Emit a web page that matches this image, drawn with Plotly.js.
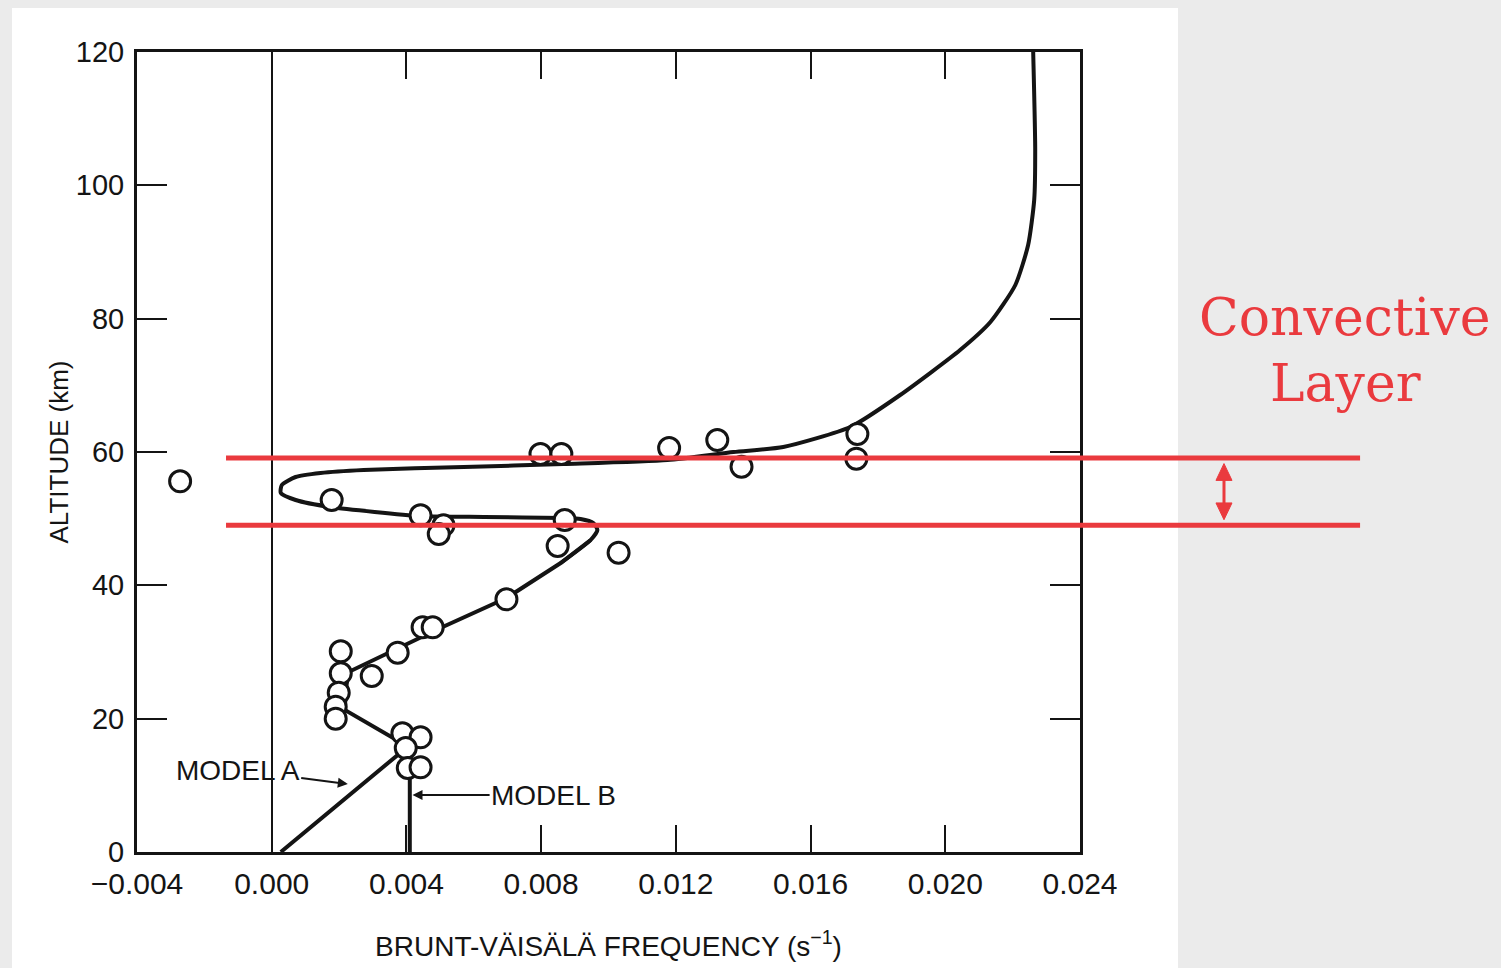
<!DOCTYPE html>
<html>
<head>
<meta charset="utf-8">
<script src="https://cdn.plot.ly/plotly-3.0.1.min.js"></script>
<style>html,body{margin:0;padding:0;background:#ebebeb;}#chart{width:1501px;height:968px;}</style>
</head>
<body>
<div id="chart"></div>
<script>
// Observed Brunt-Väisälä frequency points (s^-1) and altitudes (km)
const obsFreq = [-0.00272, 0.00178, 0.00442, 0.0051, 0.00496, 0.0087, 0.00849, 0.0103, 0.00697,
  0.00448, 0.00478, 0.00374, 0.00297, 0.00205, 0.00205, 0.00199, 0.0019, 0.0019,
  0.00388, 0.00442, 0.00398, 0.00404, 0.00442,
  0.00798, 0.0086, 0.0118, 0.01323, 0.01395, 0.01739, 0.01736];
const obsAlt = [55.6, 52.8, 50.5, 49.0, 47.7, 49.8, 45.9, 44.9, 37.9,
  33.7, 33.7, 29.9, 26.4, 30.1, 26.8, 23.9, 21.8, 20.0,
  17.8, 17.2, 15.6, 12.6, 12.7,
  59.7, 59.7, 60.6, 61.8, 57.8, 62.7, 59.0];

// Model A profile, lower straight segments
const modelALowFreq = [0.00027, 0.00374, 0.00398, 0.00217, 0.0022, 0.00228, 0.00501, 0.00697, 0.00858, 0.00947];
const modelALowAlt  = [0, 14.55, 16.0, 21.3, 24.3, 27.0, 33.6, 38.1, 43.35, 46.8];
// Model A profile, upper smooth part
const modelAHighFreq = [0.00858, 0.00947, 0.00967, 0.00955, 0.00917, 0.00866, 0.0063, 0.00442, 0.00175, 0.00071,
  0.00027, 0.0003, 0.00071, 0.00145, 0.00273, 0.0057, 0.00866, 0.01175, 0.01371, 0.01519,
  0.01718, 0.01866, 0.02044, 0.02134, 0.02208, 0.02246, 0.02264, 0.02267, 0.02261];
const modelAHighAlt = [43.35, 46.8, 48.3, 49.35, 49.95, 50.1, 50.25, 50.4, 51.75, 52.8,
  53.85, 55.05, 56.25, 56.85, 57.3, 57.75, 58.2, 58.8, 60.0, 60.75,
  63.75, 68.55, 75.3, 79.5, 85.05, 91.05, 97.8, 105.3, 120];

// Model B profile
const modelBFreq = [0.0041, 0.0041];
const modelBAlt = [0, 16];

// Axis ticks
const xTickVals = [-0.004, 0.000, 0.004, 0.008, 0.012, 0.016, 0.020, 0.024];
const xTickText = ['\u22120.004', '0.000', '0.004', '0.008', '0.012', '0.016', '0.020', '0.024'];
const yTickVals = [0, 20, 40, 60, 80, 100, 120];
const yTickText = ['0', '20', '40', '60', '80', '100', '120'];
const xRange = [-0.004, 0.024];
const yRange = [0, 120];

// Convective layer bounds (km)
const layerTop = 59.1;
const layerBottom = 49.0;

const FONT = '"Liberation Sans", Arial, sans-serif';
const SERIF = '"DejaVu Serif", "Liberation Serif", serif';
const INK = '#141414';
const RED = '#ea3a3e';
const yPaper = v => (v - yRange[0]) / (yRange[1] - yRange[0]);

const traces = [
  {x: modelALowFreq, y: modelALowAlt, mode: 'lines', line: {color: INK, width: 4}, hoverinfo: 'skip', showlegend: false},
  {x: modelAHighFreq, y: modelAHighAlt, mode: 'lines', line: {color: INK, width: 4, shape: 'spline', smoothing: 0.6}, hoverinfo: 'skip', showlegend: false},
  {x: modelBFreq, y: modelBAlt, mode: 'lines', line: {color: INK, width: 4}, hoverinfo: 'skip', showlegend: false},
  {x: obsFreq, y: obsAlt, mode: 'markers', marker: {symbol: 'circle', size: 21, color: '#ffffff', line: {color: INK, width: 3}}, showlegend: false}
];

// double-headed arrow geometry (paper units)
const arrX = 1.1527, headW = 0.0085, headH = 0.021;
const aTop = yPaper(layerTop) - 0.007, aBot = yPaper(layerBottom) + 0.007;

const layout = {
  width: 1501, height: 968,
  margin: {l: 137, r: 421, t: 52, b: 116},
  paper_bgcolor: '#ebebeb',
  plot_bgcolor: '#ffffff',
  font: {family: FONT, color: INK},
  showlegend: false,
  xaxis: {
    range: xRange, tickvals: xTickVals, ticktext: xTickText,
    ticks: 'inside', ticklen: 27, tickwidth: 2, tickcolor: INK,
    showline: true, linewidth: 3, linecolor: INK, mirror: 'ticks',
    showgrid: false, zeroline: true, zerolinecolor: INK, zerolinewidth: 2,
    tickfont: {family: FONT, size: 30, color: INK},
    ticklabelstandoff: 3,
    title: {text: 'BRUNT-VÄISÄLÄ FREQUENCY (s<sup>\u22121</sup>)', font: {family: FONT, size: 28, color: INK}, standoff: 38}
  },
  yaxis: {
    range: yRange, tickvals: yTickVals, ticktext: yTickText,
    ticks: 'inside', ticklen: 30, tickwidth: 2, tickcolor: INK,
    showline: true, linewidth: 3, linecolor: INK, mirror: 'ticks',
    showgrid: false, zeroline: false,
    tickfont: {family: FONT, size: 29, color: INK},
    ticklabelstandoff: 4,
    title: {text: 'ALTITUDE (km)', font: {family: FONT, size: 26, color: INK}, standoff: 0}
  },
  shapes: [
    {type: 'rect', xref: 'paper', yref: 'paper', x0: -0.1326, x1: 1.1039, y0: -0.2, y1: 1.055, fillcolor: '#ffffff', line: {width: 0}, layer: 'below'},
    {type: 'line', xref: 'paper', yref: 'paper', x0: 0.0944, x1: 1.297, y0: yPaper(layerTop), y1: yPaper(layerTop), line: {color: RED, width: 5}},
    {type: 'line', xref: 'paper', yref: 'paper', x0: 0.0944, x1: 1.297, y0: yPaper(layerBottom), y1: yPaper(layerBottom), line: {color: RED, width: 5}},
    {type: 'line', xref: 'paper', yref: 'paper', x0: arrX, x1: arrX, y0: aBot + headH * 0.5, y1: aTop - headH * 0.5, line: {color: RED, width: 3}},
    {type: 'path', xref: 'paper', yref: 'paper', fillcolor: RED, line: {color: RED, width: 1},
     path: `M ${arrX} ${aTop} L ${arrX - headW} ${aTop - headH} L ${arrX + headW} ${aTop - headH} Z`},
    {type: 'path', xref: 'paper', yref: 'paper', fillcolor: RED, line: {color: RED, width: 1},
     path: `M ${arrX} ${aBot} L ${arrX - headW} ${aBot + headH} L ${arrX + headW} ${aBot + headH} Z`}
  ],
  annotations: [
    {xref: 'x', yref: 'y', x: 0.00226, y: 10.2, axref: 'x', ayref: 'y', ax: -0.00101, ay: 12.3,
     text: 'MODEL A', showarrow: true, arrowhead: 2, arrowsize: 1, arrowwidth: 2, arrowcolor: INK,
     font: {family: FONT, size: 28, color: INK}},
    {xref: 'x', yref: 'y', x: 0.00418, y: 8.55, axref: 'x', ayref: 'y', ax: 0.00837, ay: 8.55,
     text: 'MODEL B', showarrow: true, arrowhead: 2, arrowsize: 1, arrowwidth: 2, arrowcolor: INK,
     font: {family: FONT, size: 28, color: INK}},
    {xref: 'paper', yref: 'paper', x: 1.2815, y: 0.669, text: 'Convective', showarrow: false,
     font: {family: SERIF, size: 52, color: RED}, xanchor: 'center', yanchor: 'middle'},
    {xref: 'paper', yref: 'paper', x: 1.2815, y: 0.586, text: 'Layer', showarrow: false,
     font: {family: SERIF, size: 52, color: RED}, xanchor: 'center', yanchor: 'middle'}
  ]
};

Plotly.newPlot('chart', traces, layout, {staticPlot: true, displayModeBar: false});
</script>
</body>
</html>
